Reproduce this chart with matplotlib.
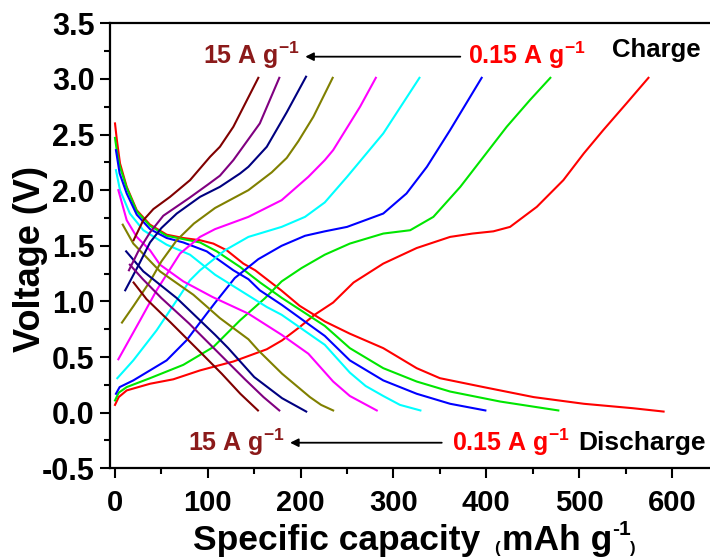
import matplotlib
matplotlib.use('Agg')
from matplotlib import pyplot as plt
from matplotlib.ticker import MultipleLocator

plt.rcParams['font.family'] = ['Liberation Sans', 'DejaVu Sans']
plt.rcParams['font.weight'] = 'bold'
plt.rcParams['axes.labelweight'] = 'bold'
plt.rcParams['mathtext.default'] = 'regular'

# Charge curves, 0.15 A/g (red) ... 15 A/g (wine): capacity (mAh/g), voltage (V)
chg_red_x = [0, 4, 12.6, 37.7, 62.8, 91.6, 127.5, 163.5, 180, 199, 215, 235, 257, 289, 325, 361, 385,
             407.6, 425.6, 454.4, 483, 505, 526, 551, 574.7]
chg_red_y = [0.07, 0.14, 0.20, 0.26, 0.30, 0.38, 0.46, 0.57, 0.65, 0.77, 0.88, 0.99, 1.17, 1.34, 1.48, 1.58, 1.61,
             1.63, 1.67, 1.85, 2.09, 2.33, 2.54, 2.78, 3.01]
chg_green_x = [0, 4, 12.6, 37.7, 73.6, 105.9, 134.7, 161.7, 179.5, 201, 226, 253, 289, 318, 343, 372, 397, 422, 447, 469]
chg_green_y = [0.11, 0.18, 0.23, 0.31, 0.43, 0.59, 0.83, 1.03, 1.18, 1.30, 1.42, 1.52, 1.61, 1.64, 1.76, 2.03, 2.30,
               2.57, 2.81, 3.01]
chg_blue_x = [1, 5, 19.7, 55.6, 77, 98.8, 108, 129, 154.4, 179.5, 204.7, 226, 250, 289, 314, 336, 361, 395]
chg_blue_y = [0.17, 0.23, 0.29, 0.47, 0.65, 0.89, 0.99, 1.21, 1.38, 1.50, 1.59, 1.63, 1.67, 1.79, 1.97, 2.21, 2.54, 3.01]
chg_cyan_x = [2.5, 19.7, 44.8, 66.5, 80.8, 91.6, 118.5, 143.7, 179.5, 204.7, 226, 250, 289, 328]
chg_cyan_y = [0.31, 0.47, 0.74, 1.01, 1.19, 1.28, 1.46, 1.58, 1.67, 1.76, 1.89, 2.12, 2.51, 3.01]
chg_magenta_x = [3.6, 27, 44.8, 70, 91.6, 107.8, 143.7, 179.5, 208.3, 226, 235, 264, 281]
chg_magenta_y = [0.48, 0.83, 1.10, 1.43, 1.58, 1.65, 1.76, 1.91, 2.12, 2.27, 2.36, 2.75, 3.01]
chg_olive_x = [7.5, 20, 37.7, 50, 66.5, 85, 107.8, 143.7, 168.8, 185, 197.5, 213.7, 234.5]
chg_olive_y = [0.81, 0.96, 1.18, 1.36, 1.55, 1.70, 1.84, 2.00, 2.16, 2.29, 2.44, 2.66, 3.01]
chg_navy_x = [11, 25, 37.7, 50, 66.5, 91.6, 113, 134.7, 143.7, 163.5, 185, 205.8]
chg_navy_y = [1.10, 1.32, 1.53, 1.66, 1.79, 1.94, 2.03, 2.15, 2.21, 2.39, 2.70, 3.02]
chg_purple_x = [15, 25, 37.7, 52, 80, 100, 113, 127.5, 156, 177]
chg_purple_y = [1.28, 1.45, 1.62, 1.77, 1.93, 2.05, 2.13, 2.27, 2.60, 3.01]
chg_wine_x = [20, 30.5, 41.3, 59.3, 80.8, 102.4, 113, 127.5, 154.4]
chg_wine_y = [1.55, 1.73, 1.83, 1.94, 2.09, 2.30, 2.39, 2.57, 3.01]

# Discharge curves
dis_red_x = [0, 2, 5.4, 12.6, 23.4, 37.7, 55.7, 73.6, 91.6, 105.9, 120.3, 138.3, 151, 179, 199, 226, 253, 289, 325,
             350, 397, 451, 505, 558, 591]
dis_red_y = [2.60, 2.45, 2.24, 2.03, 1.82, 1.69, 1.60, 1.57, 1.55, 1.52, 1.46, 1.34, 1.28, 1.10, 0.96, 0.82, 0.71,
             0.58, 0.40, 0.31, 0.23, 0.14, 0.08, 0.04, 0.01]
dis_green_x = [0, 2, 5, 12.6, 23.4, 37.7, 55.7, 73.6, 91.6, 109.6, 134.7, 156.3, 180, 226, 253, 289, 325, 361, 415, 477.6]
dis_green_y = [2.47, 2.35, 2.22, 2.02, 1.81, 1.68, 1.59, 1.56, 1.53, 1.45, 1.31, 1.17, 1.03, 0.78, 0.58, 0.40, 0.28,
               0.19, 0.10, 0.02]
dis_blue_x = [1, 5, 12.6, 23.4, 37.7, 55.7, 73.6, 98.8, 127.5, 143.7, 156, 179.5, 226, 253, 289, 325, 361, 399]
dis_blue_y = [2.36, 2.15, 1.97, 1.78, 1.65, 1.57, 1.53, 1.45, 1.28, 1.20, 1.10, 0.97, 0.69, 0.47, 0.29, 0.17, 0.08, 0.02]
dis_cyan_x = [1, 5.4, 16, 30.5, 55.6, 80.8, 107.8, 134.7, 163.5, 179.5, 226, 253, 270, 289, 307, 329]
dis_cyan_y = [2.18, 2.00, 1.79, 1.64, 1.51, 1.42, 1.24, 1.10, 0.95, 0.88, 0.61, 0.36, 0.24, 0.15, 0.07, 0.02]
dis_magenta_x = [3.6, 12.6, 23.4, 37.7, 48.5, 73.6, 105, 143.7, 179.5, 208.3, 235, 253, 282]
dis_magenta_y = [2.00, 1.73, 1.58, 1.46, 1.33, 1.18, 1.04, 0.89, 0.70, 0.53, 0.28, 0.15, 0.02]
dis_olive_x = [8.3, 19.7, 48.5, 84.4, 113, 143.7, 154.4, 180, 210, 222, 235]
dis_olive_y = [1.69, 1.52, 1.27, 1.06, 0.85, 0.66, 0.56, 0.35, 0.14, 0.07, 0.02]
dis_navy_x = [12, 30.5, 66.5, 107.8, 122, 150, 180, 206]
dis_navy_y = [1.45, 1.27, 1.03, 0.70, 0.58, 0.32, 0.13, 0.01]
dis_purple_x = [16, 30, 50, 80, 110, 140, 160, 177]
dis_purple_y = [1.33, 1.20, 1.03, 0.80, 0.55, 0.30, 0.14, 0.02]
dis_wine_x = [20, 34, 60, 90, 115, 135, 154]
dis_wine_y = [1.17, 1.02, 0.81, 0.56, 0.35, 0.17, 0.02]

colours = ['#ff0000', '#00e600', '#0000ff', '#00ffff', '#ff00ff', '#808000', '#000080', '#800080', '#800000']

charge = [(chg_red_x, chg_red_y), (chg_green_x, chg_green_y), (chg_blue_x, chg_blue_y),
          (chg_cyan_x, chg_cyan_y), (chg_magenta_x, chg_magenta_y), (chg_olive_x, chg_olive_y),
          (chg_navy_x, chg_navy_y), (chg_purple_x, chg_purple_y), (chg_wine_x, chg_wine_y)]
discharge = [(dis_red_x, dis_red_y), (dis_green_x, dis_green_y), (dis_blue_x, dis_blue_y),
             (dis_cyan_x, dis_cyan_y), (dis_magenta_x, dis_magenta_y), (dis_olive_x, dis_olive_y),
             (dis_navy_x, dis_navy_y), (dis_purple_x, dis_purple_y), (dis_wine_x, dis_wine_y)]

fig = plt.figure(figsize=(7.1, 5.59), dpi=100)
ax = fig.add_axes([110 / 710, 1 - 468.3 / 559, 600 / 710, 445 / 559])

for (cx, cy), (dx, dy), c in zip(charge, discharge, colours):
    ax.plot(cx, cy, color=c, lw=1.5)
    ax.plot(dx, dy, color=c, lw=1.5)

ax.set_xlim(-5.4, 641)
ax.set_ylim(-0.5, 3.5)
ax.xaxis.set_major_locator(MultipleLocator(100))
ax.xaxis.set_minor_locator(MultipleLocator(50))
ax.yaxis.set_major_locator(MultipleLocator(0.5))
ax.yaxis.set_minor_locator(MultipleLocator(0.25))
ax.yaxis.set_major_formatter(lambda v, pos: f'{v:.1f}')

ax.spines['right'].set_visible(False)
for s in ['left', 'top', 'bottom']:
    ax.spines[s].set_linewidth(1.6)
ax.tick_params(which='both', direction='out', width=1.5, top=False, right=False)
ax.tick_params(which='major', length=7, pad=4)
ax.tick_params(which='minor', length=4)
ax.tick_params(axis='y', which='major', labelsize=22)
ax.tick_params(axis='x', which='major', labelsize=21, pad=8)

ax.set_ylabel('Voltage (V)', fontsize=26, fontweight='bold')
ax.yaxis.set_label_coords(-0.104, 0.47)

# x label built from pieces like the original (small brackets, raised -1)
fig.text(193 / 710, 1 - 550 / 559, 'Specific capacity', fontsize=25.5, ha='left', va='baseline')
fig.text(494 / 710, 1 - 553 / 559, '(', fontsize=12, ha='left', va='baseline')
fig.text(502 / 710, 1 - 550 / 559, 'mAh g', fontsize=25.5, ha='left', va='baseline')
fig.text(612 / 710, 1 - 535 / 559, '-1', fontsize=15, ha='left', va='baseline')
fig.text(630 / 710, 1 - 553 / 559, ')', fontsize=12, ha='left', va='baseline')

# rate annotations
wine = '#8b1a1a'
arrow = dict(arrowstyle='-|>', color='black', lw=1.3, mutation_scale=12, shrinkA=0, shrinkB=0)
ax.text(199, 3.21, '15 A g$^{-1}$', color=wine, fontsize=18, ha='right', va='center')
ax.annotate('', xy=(205, 3.2), xytext=(372, 3.2), arrowprops=arrow)
ax.text(380, 3.21, '0.15 A g$^{-1}$', color='red', fontsize=18, ha='left', va='center')
ax.text(535, 3.26, 'Charge', color='black', fontsize=18.5, ha='left', va='center')

ax.text(183, -0.27, '15 A g$^{-1}$', color=wine, fontsize=18, ha='right', va='center')
ax.annotate('', xy=(188.6, -0.27), xytext=(352, -0.27), arrowprops=arrow)
ax.text(363, -0.27, '0.15 A g$^{-1}$', color='red', fontsize=18, ha='left', va='center')
ax.text(499, -0.27, 'Discharge', color='black', fontsize=19, ha='left', va='center')

fig.savefig('out.png', dpi=100)
